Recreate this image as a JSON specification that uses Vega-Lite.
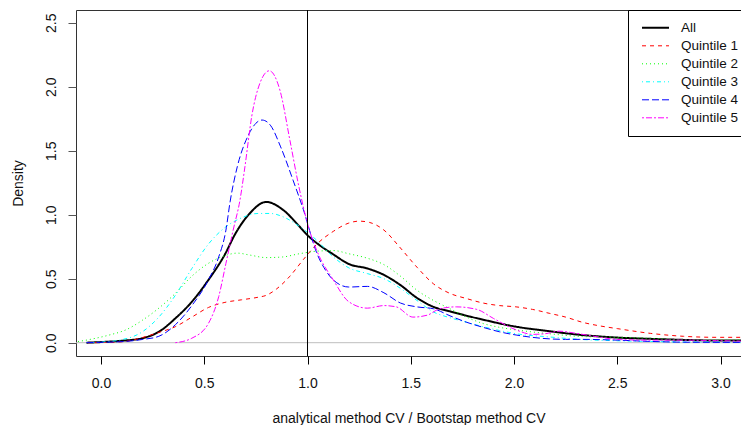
{
  "$schema": "https://vega.github.io/schema/vega-lite/v6.json",
  "width": 665,
  "height": 346,
  "autosize": {"type": "none"},
  "padding": {"left": 76, "top": 10, "right": 0, "bottom": 69},
  "config": {
    "font": "Liberation Sans",
    "view": {"stroke": "#333", "strokeWidth": 1},
    "legend": {
      "orient": "none", "legendX": 552, "legendY": 0,
      "strokeColor": "#000", "fillColor": "#fff", "cornerRadius": 0,
      "padding": 9, "symbolType": "stroke", "symbolSize": 729, "clipHeight": 17.6,
      "symbolOffset": 4, "labelOffset": 11, "labelFontSize": 13.5,
      "labelColor": "#111", "labelFont": "Liberation Sans", "rowPadding": 0, "title": null
    }
  },
  "datasets": {
    "curves": [
      {"s":"All","x":-0.07,"y":0.0},{"s":"All","x":0.0,"y":0.005},{"s":"All","x":0.1,"y":0.015},{"s":"All","x":0.2,"y":0.035},{"s":"All","x":0.28,"y":0.085},{"s":"All","x":0.36,"y":0.19},{"s":"All","x":0.44,"y":0.32},{"s":"All","x":0.52,"y":0.49},{"s":"All","x":0.6,"y":0.69},{"s":"All","x":0.65,"y":0.85},{"s":"All","x":0.72,"y":1.01},{"s":"All","x":0.8,"y":1.1},{"s":"All","x":0.88,"y":1.04},{"s":"All","x":0.96,"y":0.91},{"s":"All","x":1.0,"y":0.84},{"s":"All","x":1.06,"y":0.76},{"s":"All","x":1.125,"y":0.69},{"s":"All","x":1.2,"y":0.615},{"s":"All","x":1.29,"y":0.58},{"s":"All","x":1.37,"y":0.53},{"s":"All","x":1.45,"y":0.45},{"s":"All","x":1.53,"y":0.35},{"s":"All","x":1.61,"y":0.28},{"s":"All","x":1.69,"y":0.245},{"s":"All","x":1.85,"y":0.18},{"s":"All","x":2.01,"y":0.125},{"s":"All","x":2.17,"y":0.09},{"s":"All","x":2.33,"y":0.06},{"s":"All","x":2.5,"y":0.04},{"s":"All","x":2.66,"y":0.03},{"s":"All","x":2.82,"y":0.022},{"s":"All","x":2.98,"y":0.017},{"s":"All","x":3.15,"y":0.018},

      {"s":"Quintile 1","x":-0.07,"y":0.0},{"s":"Quintile 1","x":0.05,"y":0.003},{"s":"Quintile 1","x":0.12,"y":0.01},{"s":"Quintile 1","x":0.2,"y":0.04},{"s":"Quintile 1","x":0.28,"y":0.08},{"s":"Quintile 1","x":0.36,"y":0.125},{"s":"Quintile 1","x":0.44,"y":0.2},{"s":"Quintile 1","x":0.52,"y":0.275},{"s":"Quintile 1","x":0.6,"y":0.315},{"s":"Quintile 1","x":0.68,"y":0.335},{"s":"Quintile 1","x":0.76,"y":0.355},{"s":"Quintile 1","x":0.8,"y":0.37},{"s":"Quintile 1","x":0.85,"y":0.42},{"s":"Quintile 1","x":0.915,"y":0.52},{"s":"Quintile 1","x":0.98,"y":0.65},{"s":"Quintile 1","x":1.045,"y":0.77},{"s":"Quintile 1","x":1.125,"y":0.87},{"s":"Quintile 1","x":1.2,"y":0.935},{"s":"Quintile 1","x":1.25,"y":0.95},{"s":"Quintile 1","x":1.3,"y":0.94},{"s":"Quintile 1","x":1.37,"y":0.88},{"s":"Quintile 1","x":1.45,"y":0.74},{"s":"Quintile 1","x":1.53,"y":0.59},{"s":"Quintile 1","x":1.61,"y":0.46},{"s":"Quintile 1","x":1.69,"y":0.385},{"s":"Quintile 1","x":1.77,"y":0.345},{"s":"Quintile 1","x":1.85,"y":0.31},{"s":"Quintile 1","x":1.93,"y":0.29},{"s":"Quintile 1","x":2.01,"y":0.28},{"s":"Quintile 1","x":2.09,"y":0.26},{"s":"Quintile 1","x":2.17,"y":0.23},{"s":"Quintile 1","x":2.25,"y":0.2},{"s":"Quintile 1","x":2.33,"y":0.16},{"s":"Quintile 1","x":2.42,"y":0.13},{"s":"Quintile 1","x":2.5,"y":0.11},{"s":"Quintile 1","x":2.66,"y":0.073},{"s":"Quintile 1","x":2.82,"y":0.05},{"s":"Quintile 1","x":2.98,"y":0.042},{"s":"Quintile 1","x":3.15,"y":0.042},

      {"s":"Quintile 2","x":-0.15,"y":0.005},{"s":"Quintile 2","x":-0.12,"y":0.008},{"s":"Quintile 2","x":-0.04,"y":0.03},{"s":"Quintile 2","x":0.04,"y":0.06},{"s":"Quintile 2","x":0.12,"y":0.1},{"s":"Quintile 2","x":0.2,"y":0.175},{"s":"Quintile 2","x":0.28,"y":0.27},{"s":"Quintile 2","x":0.36,"y":0.385},{"s":"Quintile 2","x":0.44,"y":0.52},{"s":"Quintile 2","x":0.52,"y":0.62},{"s":"Quintile 2","x":0.6,"y":0.68},{"s":"Quintile 2","x":0.66,"y":0.7},{"s":"Quintile 2","x":0.72,"y":0.685},{"s":"Quintile 2","x":0.8,"y":0.665},{"s":"Quintile 2","x":0.88,"y":0.67},{"s":"Quintile 2","x":0.96,"y":0.695},{"s":"Quintile 2","x":1.045,"y":0.715},{"s":"Quintile 2","x":1.125,"y":0.72},{"s":"Quintile 2","x":1.2,"y":0.695},{"s":"Quintile 2","x":1.29,"y":0.66},{"s":"Quintile 2","x":1.37,"y":0.61},{"s":"Quintile 2","x":1.45,"y":0.52},{"s":"Quintile 2","x":1.53,"y":0.41},{"s":"Quintile 2","x":1.61,"y":0.33},{"s":"Quintile 2","x":1.69,"y":0.265},{"s":"Quintile 2","x":1.77,"y":0.2},{"s":"Quintile 2","x":1.85,"y":0.15},{"s":"Quintile 2","x":1.93,"y":0.12},{"s":"Quintile 2","x":2.01,"y":0.1},{"s":"Quintile 2","x":2.17,"y":0.07},{"s":"Quintile 2","x":2.33,"y":0.048},{"s":"Quintile 2","x":2.5,"y":0.042},{"s":"Quintile 2","x":2.66,"y":0.034},{"s":"Quintile 2","x":2.82,"y":0.022},{"s":"Quintile 2","x":2.98,"y":0.02},{"s":"Quintile 2","x":3.15,"y":0.026},

      {"s":"Quintile 3","x":-0.07,"y":0.0},{"s":"Quintile 3","x":0.0,"y":0.005},{"s":"Quintile 3","x":0.09,"y":0.02},{"s":"Quintile 3","x":0.2,"y":0.085},{"s":"Quintile 3","x":0.28,"y":0.2},{"s":"Quintile 3","x":0.36,"y":0.37},{"s":"Quintile 3","x":0.44,"y":0.58},{"s":"Quintile 3","x":0.52,"y":0.77},{"s":"Quintile 3","x":0.6,"y":0.9},{"s":"Quintile 3","x":0.68,"y":0.975},{"s":"Quintile 3","x":0.76,"y":1.01},{"s":"Quintile 3","x":0.82,"y":1.01},{"s":"Quintile 3","x":0.88,"y":0.985},{"s":"Quintile 3","x":0.96,"y":0.91},{"s":"Quintile 3","x":1.045,"y":0.8},{"s":"Quintile 3","x":1.125,"y":0.67},{"s":"Quintile 3","x":1.2,"y":0.585},{"s":"Quintile 3","x":1.29,"y":0.54},{"s":"Quintile 3","x":1.37,"y":0.5},{"s":"Quintile 3","x":1.45,"y":0.425},{"s":"Quintile 3","x":1.53,"y":0.33},{"s":"Quintile 3","x":1.61,"y":0.24},{"s":"Quintile 3","x":1.69,"y":0.195},{"s":"Quintile 3","x":1.77,"y":0.16},{"s":"Quintile 3","x":1.85,"y":0.125},{"s":"Quintile 3","x":1.93,"y":0.095},{"s":"Quintile 3","x":2.01,"y":0.07},{"s":"Quintile 3","x":2.17,"y":0.045},{"s":"Quintile 3","x":2.33,"y":0.025},{"s":"Quintile 3","x":2.5,"y":0.015},{"s":"Quintile 3","x":2.66,"y":0.01},{"s":"Quintile 3","x":2.82,"y":0.005},{"s":"Quintile 3","x":3.15,"y":0.005},

      {"s":"Quintile 4","x":-0.07,"y":0.0},{"s":"Quintile 4","x":0.0,"y":0.003},{"s":"Quintile 4","x":0.12,"y":0.01},{"s":"Quintile 4","x":0.2,"y":0.025},{"s":"Quintile 4","x":0.28,"y":0.05},{"s":"Quintile 4","x":0.36,"y":0.14},{"s":"Quintile 4","x":0.44,"y":0.29},{"s":"Quintile 4","x":0.52,"y":0.49},{"s":"Quintile 4","x":0.57,"y":0.67},{"s":"Quintile 4","x":0.605,"y":0.88},{"s":"Quintile 4","x":0.625,"y":1.1},{"s":"Quintile 4","x":0.66,"y":1.375},{"s":"Quintile 4","x":0.71,"y":1.61},{"s":"Quintile 4","x":0.78,"y":1.74},{"s":"Quintile 4","x":0.82,"y":1.7},{"s":"Quintile 4","x":0.87,"y":1.53},{"s":"Quintile 4","x":0.93,"y":1.27},{"s":"Quintile 4","x":0.98,"y":1.04},{"s":"Quintile 4","x":1.045,"y":0.7},{"s":"Quintile 4","x":1.09,"y":0.56},{"s":"Quintile 4","x":1.125,"y":0.49},{"s":"Quintile 4","x":1.2,"y":0.435},{"s":"Quintile 4","x":1.29,"y":0.44},{"s":"Quintile 4","x":1.37,"y":0.39},{"s":"Quintile 4","x":1.45,"y":0.31},{"s":"Quintile 4","x":1.53,"y":0.28},{"s":"Quintile 4","x":1.61,"y":0.265},{"s":"Quintile 4","x":1.69,"y":0.21},{"s":"Quintile 4","x":1.77,"y":0.16},{"s":"Quintile 4","x":1.85,"y":0.12},{"s":"Quintile 4","x":1.93,"y":0.085},{"s":"Quintile 4","x":2.01,"y":0.06},{"s":"Quintile 4","x":2.17,"y":0.03},{"s":"Quintile 4","x":2.25,"y":0.026},{"s":"Quintile 4","x":2.33,"y":0.026},{"s":"Quintile 4","x":2.5,"y":0.02},{"s":"Quintile 4","x":2.66,"y":0.01},{"s":"Quintile 4","x":2.82,"y":0.004},{"s":"Quintile 4","x":3.15,"y":0.002},

      {"s":"Quintile 5","x":0.36,"y":0.0},{"s":"Quintile 5","x":0.44,"y":0.035},{"s":"Quintile 5","x":0.52,"y":0.15},{"s":"Quintile 5","x":0.57,"y":0.36},{"s":"Quintile 5","x":0.605,"y":0.62},{"s":"Quintile 5","x":0.64,"y":0.88},{"s":"Quintile 5","x":0.673,"y":1.115},{"s":"Quintile 5","x":0.697,"y":1.375},{"s":"Quintile 5","x":0.73,"y":1.77},{"s":"Quintile 5","x":0.77,"y":2.03},{"s":"Quintile 5","x":0.815,"y":2.125},{"s":"Quintile 5","x":0.867,"y":1.97},{"s":"Quintile 5","x":0.915,"y":1.58},{"s":"Quintile 5","x":0.955,"y":1.245},{"s":"Quintile 5","x":1.0,"y":0.93},{"s":"Quintile 5","x":1.045,"y":0.72},{"s":"Quintile 5","x":1.125,"y":0.49},{"s":"Quintile 5","x":1.2,"y":0.32},{"s":"Quintile 5","x":1.29,"y":0.27},{"s":"Quintile 5","x":1.37,"y":0.29},{"s":"Quintile 5","x":1.43,"y":0.28},{"s":"Quintile 5","x":1.51,"y":0.2},{"s":"Quintile 5","x":1.58,"y":0.215},{"s":"Quintile 5","x":1.64,"y":0.265},{"s":"Quintile 5","x":1.72,"y":0.28},{"s":"Quintile 5","x":1.82,"y":0.26},{"s":"Quintile 5","x":1.9,"y":0.19},{"s":"Quintile 5","x":2.01,"y":0.1},{"s":"Quintile 5","x":2.09,"y":0.065},{"s":"Quintile 5","x":2.15,"y":0.07},{"s":"Quintile 5","x":2.22,"y":0.09},{"s":"Quintile 5","x":2.3,"y":0.073},{"s":"Quintile 5","x":2.42,"y":0.042},{"s":"Quintile 5","x":2.5,"y":0.025},{"s":"Quintile 5","x":2.66,"y":0.02},{"s":"Quintile 5","x":2.82,"y":0.02},{"s":"Quintile 5","x":2.98,"y":0.016},{"s":"Quintile 5","x":3.15,"y":0.01}
    ],
    "refs": [{"zero": 0, "one": 1}]
  },
  "layer": [
    {
      "data": {"name": "refs"},
      "mark": {"type": "rule", "color": "#bebebe", "strokeWidth": 1},
      "encoding": {"y": {"field": "zero", "type": "quantitative", "scale": {"domain": [-0.104, 2.6], "nice": false, "zero": false}}}
    },
    {
      "data": {"name": "curves"},
      "mark": {"type": "line", "interpolate": "monotone", "clip": true},
      "encoding": {
        "x": {"field": "x", "type": "quantitative",
              "scale": {"domain": [-0.121, 3.099], "nice": false, "zero": false},
              "axis": {"values": [0, 0.5, 1, 1.5, 2, 2.5, 3], "format": ".1f", "domain": false, "grid": false,
                       "tickSize": 8, "tickColor": "#000", "labelFontSize": 14, "labelColor": "#111", "labelPadding": 12,
                       "title": "analytical method CV / Bootstap method CV", "titleFontSize": 14, "titleFontWeight": "normal",
                       "titleColor": "#111", "titleBaseline": "alphabetic", "titleY": 66}},
        "y": {"field": "y", "type": "quantitative",
              "scale": {"domain": [-0.104, 2.6], "nice": false, "zero": false},
              "axis": {"values": [0, 0.5, 1, 1.5, 2, 2.5], "format": ".1f", "domain": false, "grid": false,
                       "tickSize": 8, "tickColor": "#555", "labelFontSize": 14, "labelColor": "#111", "labelPadding": 10,
                       "labelAngle": -90, "labelAlign": "center", "labelBaseline": "bottom",
                       "title": "Density", "titleFontSize": 14, "titleFontWeight": "normal", "titleColor": "#111",
                       "titleBaseline": "alphabetic", "titleX": -54, "titleY": 173, "titleAlign": "center", "titleAngle": -90}},
        "color": {"field": "s", "type": "nominal", "title": null,
                  "scale": {"domain": ["All", "Quintile 1", "Quintile 2", "Quintile 3", "Quintile 4", "Quintile 5"],
                            "range": ["#000000", "#ff0000", "#00ff00", "#00ffff", "#0000ff", "#ff00ff"]}},
        "strokeDash": {"field": "s", "type": "nominal", "title": null,
                       "scale": {"domain": ["All", "Quintile 1", "Quintile 2", "Quintile 3", "Quintile 4", "Quintile 5"],
                                 "range": [[1, 0], [4, 4], [1, 3], [1, 3, 4, 3], [7, 3], [2, 2, 6, 2]]}},
        "strokeWidth": {"field": "s", "type": "nominal", "title": null,
                        "scale": {"type": "ordinal", "domain": ["All", "Quintile 1", "Quintile 2", "Quintile 3", "Quintile 4", "Quintile 5"],
                                  "range": [2, 1, 1, 1, 1, 1]}}
      }
    },
    {
      "data": {"name": "refs"},
      "mark": {"type": "rule", "color": "#000", "strokeWidth": 1},
      "encoding": {"x": {"field": "one", "type": "quantitative"}}
    }
  ]
}
